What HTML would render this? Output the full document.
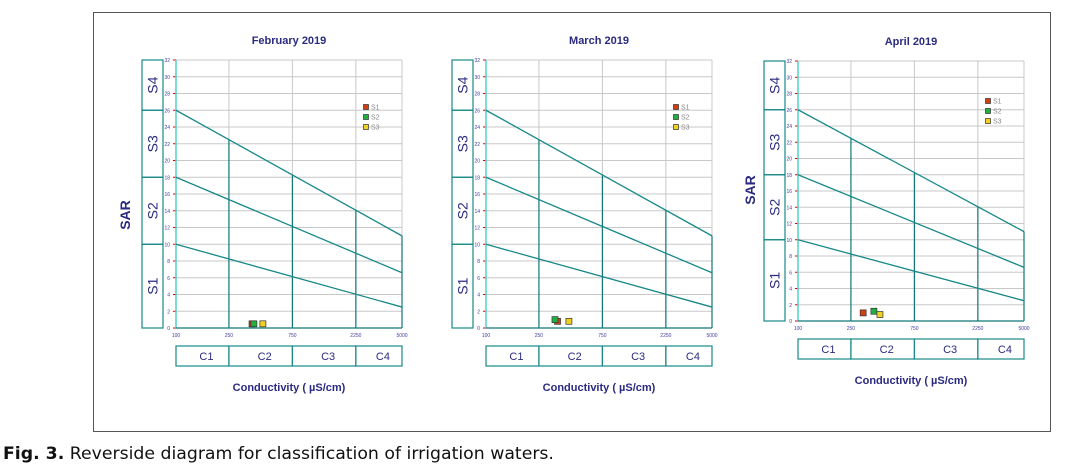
<!DOCTYPE html>
<html><head><meta charset="utf-8">
<style>
body{margin:0;background:#fff;width:1087px;height:476px;overflow:hidden;font-family:"Liberation Sans",sans-serif}
#frame{position:absolute;left:93px;top:12px;width:958px;height:420px;border:1px solid #555;box-sizing:border-box}
#cap{position:absolute;left:3px;top:444px;font-family:"DejaVu Sans",sans-serif;font-size:17.3px;color:#111}
svg{position:absolute;left:0;top:0}
</style></head><body>
<div id="frame"></div>
<div id="cap"><b>Fig. 3.</b> Reverside diagram for classification of irrigation waters.</div>
<svg id="s" width="1087" height="476"></svg>
<script>
const panelTitles=["February 2019","March 2019","April 2019"];
const condTicks=[100,250,750,2250,5000];
const sarTicks=[0,2,4,6,8,10,12,14,16,18,20,22,24,26,28,30,32];
const sampleNames=["S1","S2","S3"];
const sampleCond=[[373,385,450],[345,330,420],[309,372,413]];
const sampleSar=[[0.5,0.5,0.5],[0.8,1.0,0.8],[1.0,1.2,0.8]];
const lineStartSar=[26,18,10];
const lineEndSar=[11,6.6,2.5];
const sClasses=["S4","S3","S2","S1"];
const sBounds=[32,26,18,10,0];
const cClasses=["C1","C2","C3","C4"];
const layout=[{l:176,r:402,t:60,b:328,cb:346,sx:142,sar:[125,215],showSar:true},{l:486,r:712,t:60,b:328,cb:346,sx:452,sar:[437,197],showSar:false},{l:798,r:1024,t:61,b:321,cb:339,sx:764,sar:[750,190],showSar:true}];
const NS="http://www.w3.org/2000/svg",svg=document.getElementById('s');
function mk(t,a,txt,p){const e=document.createElementNS(NS,t);for(const k in a)e.setAttribute(k,a[k]);if(txt!=null)e.textContent=txt;(p||svg).appendChild(e);return e;}
const colors=["#d04010","#20b040","#f0d020"];
layout.forEach((L,pi)=>{
 const g=mk('g',{});
 
 
 const X=c=>L.l+(Math.log10(c)-2)/(Math.log10(5000)-2)*(L.r-L.l);
 const Y=v=>L.b-v/32*(L.b-L.t);
 const t=mk('text',{x:(L.l+L.r)/2,y:L.t-16,'text-anchor':'middle','font-size':11,'font-weight':'bold',fill:'#2a2a80'},panelTitles[pi],g);
 
 
 sarTicks.forEach(v=>{
  mk('line',{x1:L.l,x2:L.r,y1:Y(v),y2:Y(v),stroke:'#c8c8c8','stroke-width':1},null,g);
  mk('line',{x1:L.l-3,x2:L.l,y1:Y(v),y2:Y(v),stroke:'#e00000','stroke-width':1},null,g);
  const tl=mk('text',{x:L.l-6,y:Y(v)+2,'text-anchor':'end','font-size':5,fill:'#4040a0'},v,g);
  
  
 });
 condTicks.forEach((c,i)=>{
  mk('line',{x1:X(c),x2:X(c),y1:L.t,y2:L.b,stroke:'#c8c8c8'},null,g);
  const tl=mk('text',{x:X(c),y:L.b+9,'text-anchor':'middle','font-size':5,fill:'#4040a0'},c,g);
  
  
 });
 const lineVal=(k,c)=>lineStartSar[k]+(lineEndSar[k]-lineStartSar[k])*(Math.log10(c)-2)/(Math.log10(5000)-2);
 condTicks.forEach((c,i)=>{ if(i==0)return;
  mk('line',{x1:X(c),x2:X(c),y1:L.b,y2:Y(lineVal(0,c)),stroke:'#107878','stroke-width':1.2},null,g);});
 mk('line',{x1:L.l,x2:L.l,y1:L.t,y2:L.b,stroke:'#50d0d0','stroke-width':1.5},null,g);
 mk('line',{x1:L.l,x2:L.r,y1:L.b,y2:L.b,stroke:'#107878','stroke-width':1.2},null,g);
 lineStartSar.forEach((s,k)=>{
  const ln=mk('line',{x1:X(100),y1:Y(s),x2:X(5000),y2:Y(lineEndSar[k]),stroke:'#188888','stroke-width':1.3},null,g);
  
  
 });
 sClasses.forEach((n,i)=>{
  const y1=Y(sBounds[i]),y2=Y(sBounds[i+1]);
  const r=mk('rect',{x:L.sx,y:y1,width:21,height:y2-y1,fill:'none',stroke:'#188888','stroke-width':1.2},null,g);
  
  
  const cy=(y1+y2)/2;
  mk('text',{x:L.sx+10.5,y:cy+5,'text-anchor':'middle','font-size':14,fill:'#2a2a80',transform:`rotate(-90 ${L.sx+10.5} ${cy})`},n,g);
 });
 [[100,250],[250,750],[750,2250],[2250,5000]].forEach((p,i)=>{
  const r=mk('rect',{x:X(p[0]),y:L.cb,width:X(p[1])-X(p[0]),height:20,fill:'none',stroke:'#188888','stroke-width':1.2},null,g);
  
  
  mk('text',{x:(X(p[0])+X(p[1]))/2+4,y:L.cb+14,'text-anchor':'middle','font-size':11,fill:'#2a2a80'},cClasses[i],g);
 });
 const xl=mk('text',{x:(L.l+L.r)/2,y:L.cb+45,'text-anchor':'middle','font-size':11,'font-weight':'bold',fill:'#2a2a80'},'Conductivity ( µS/cm)',g);
 
 
 if(L.showSar){
 const yl=mk('text',{x:L.sar[0],y:L.sar[1]+5,'text-anchor':'middle','font-size':14,'font-weight':'bold',fill:'#2a2a80',transform:`rotate(-90 ${L.sar[0]} ${L.sar[1]})`},'SAR',g);
 
 
 }
 sampleNames.forEach((n,k)=>{
  const px=X(sampleCond[pi][k]),py=Y(sampleSar[pi][k]);
  const m=mk('rect',{x:px-3,y:py-3,width:6,height:6,fill:colors[k],stroke:'#333','stroke-width':0.7},null,g);
  
  
  const ly=(pi==2?101:107)+k*10, lx=L.r-36;
  const lm=mk('rect',{x:lx-2.5,y:ly-2.5,width:5,height:5,fill:colors[k],stroke:'#333','stroke-width':0.7},null,g);
  
  
  mk('text',{x:lx+5,y:ly+2.5,'font-size':7,fill:'#888'},n,g);
 });
});
</script>
</body></html>
